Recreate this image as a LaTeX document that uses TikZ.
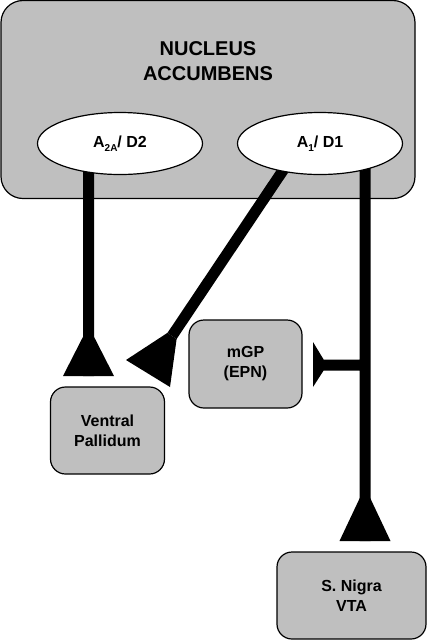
\documentclass[tikz,border=0pt]{standalone}
\usepackage{fontspec}
\setmainfont{Liberation Sans}
\usepackage{xcolor}
\usetikzlibrary{shapes.geometric,backgrounds}

\definecolor{regiongray}{gray}{0.75}
\newcommand{\lowsub}[1]{\raisebox{-4pt}{\fontsize{10}{10}\selectfont #1}}

\tikzset{
    region/.style={draw, line width=1.2pt, fill=regiongray, rounded corners=15pt, align=center, inner sep=0pt, font=\fontsize{16}{20}\selectfont\bfseries},
    receptor/.style={draw, ellipse, line width=1.2pt, fill=white, minimum width=165pt, minimum height=62pt, inner sep=0pt, font=\fontsize{16}{18}\selectfont\bfseries},
    title/.style={align=center, inner sep=0pt, font=\fontsize{20}{25}\selectfont\bfseries},
    tract/.style={line width=11pt}
}

\begin{document}
\begin{tikzpicture}[x=1pt, y=-1pt]
                \useasboundingbox (0, 0) rectangle (428, 641);

                \node[title] (nacctitle) at (208, 61) {NUCLEUS\\ACCUMBENS};
                \node[receptor] (d2) at (120, 143.5) {A\lowsub{2A}/ D2};
                \node[receptor] (d1) at (320, 143.5) {A\lowsub{1}/ D1};
                \node[region, minimum width=114pt, minimum height=87pt] (vp) at (107.5, 430.5) {Ventral\\Pallidum};
                \node[region, minimum width=113pt, minimum height=88pt] (mgp) at (245.5, 364) {mGP\\(EPN)};
                \node[region, minimum width=149pt, minimum height=87pt] (sn) at (351.5, 595.5) {S. Nigra\\VTA};

                \coordinate (vptip) at (88.5, 376);
                \coordinate (vpin) at (172, 336);
                \coordinate (sntip) at (365, 541);
                \coordinate (branch) at (365, 365);
                \coordinate (mgpend) at (323, 365);

                \begin{scope}[on background layer]
                \node[region, rounded corners=22pt, minimum width=414pt, minimum height=198pt] (nacc) at (208, 99.5) {};
                \draw[tract]
                ([xshift=-31.5pt]d2.center) -- (vptip)
                ([xshift=-19pt]d1.center) -- (vpin)
                ([xshift=45pt]d1.center) -- (sntip)
                (branch) -- (mgpend);
                \end{scope}

                \fill (88.5, 326) -- (63, 376) -- (114, 376) -- cycle;
                \fill (365, 487) -- (339.5, 541) -- (390.5, 541) -- cycle;
                \fill (126, 360) -- (167.4, 332.9) -- (176.6, 339.1) -- (170, 387) -- cycle;
                \fill (313, 342) -- (323.5, 359.3) -- (323.5, 370.7) -- (313, 387) -- cycle;
            \end{tikzpicture}
\end{document}
